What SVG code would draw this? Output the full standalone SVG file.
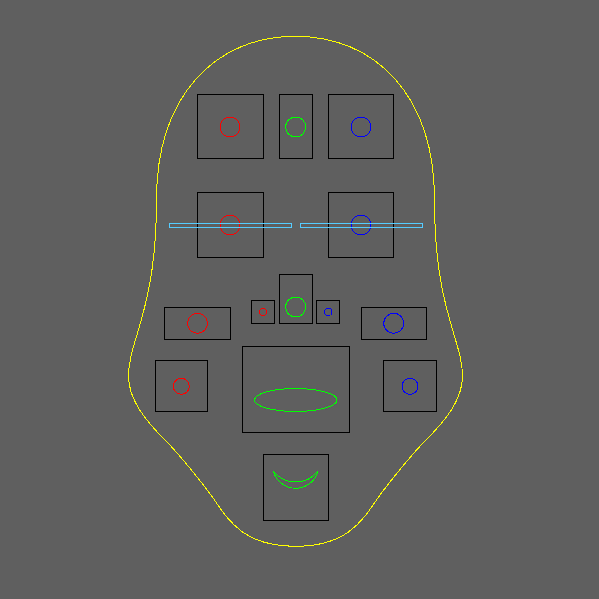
<svg xmlns="http://www.w3.org/2000/svg" width="599" height="599" viewBox="0 0 599 599">
  <style>
    svg * { shape-rendering: crispEdges; }
    .box { fill: none; stroke: #000; stroke-width: 1; }
    .r { fill: none; stroke: #ff0000; stroke-width: 1; }
    .g { fill: none; stroke: #00ff00; stroke-width: 1; }
    .b { fill: none; stroke: #0000ff; stroke-width: 1; }
    .bar { fill: none; stroke: #55ccff; stroke-width: 1; }
    .outline { fill: none; stroke: #ffff00; stroke-width: 1; }
  </style>
  <rect x="0" y="0" width="599" height="599" fill="#5f5f5f"/>
  <path id="outline" class="outline" d="M295.5,36.3 C375,36.3 434.5,95 434.5,200 C434.5,310 462.5,340 462.5,376 C462.5,400 445,421 426,440 C410,456 384,489 376.5,500 C361,523 345,546.3 295.5,546.3 C246,546.3 230,523 214.5,500 C207,489 181,456 165,440 C146,421 128.5,400 128.5,376 C128.5,340 156.5,310 156.5,200 C156.5,95 216,36.3 295.5,36.3 Z"/>

  <g id="top-left"><rect class="box" x="197.5" y="94.5" width="66" height="64"/><circle class="r" cx="230" cy="127" r="10"/></g>
  <g id="top-mid"><rect class="box" x="279.5" y="94.5" width="33" height="64"/><circle class="g" cx="295.7" cy="127" r="10"/></g>
  <g id="top-right"><rect class="box" x="328.5" y="94.5" width="65" height="64"/><circle class="b" cx="361" cy="127" r="10"/></g>

  <g id="eye-left"><rect class="box" x="197.5" y="192.5" width="66" height="65"/><circle class="r" cx="230" cy="225" r="10"/></g>
  <g id="eye-right"><rect class="box" x="328.5" y="192.5" width="65" height="65"/><circle class="b" cx="361" cy="225" r="10"/></g>
  <g id="bars">
    <rect class="bar" x="169.5" y="223.5" width="122" height="4"/>
    <rect class="bar" x="300.5" y="223.5" width="122" height="4"/>
  </g>

  <g id="small-left"><rect class="box" x="251.5" y="300.5" width="23" height="23"/><circle class="r" cx="263" cy="312" r="3.7"/></g>
  <g id="nose"><rect class="box" x="279.5" y="274.5" width="33" height="49"/><circle class="g" cx="295.7" cy="307" r="10"/></g>
  <g id="small-right"><rect class="box" x="316.5" y="300.5" width="23" height="23"/><circle class="b" cx="328.3" cy="312" r="3.7"/></g>
  <g id="wide-left"><rect class="box" x="164.5" y="307.5" width="66" height="32"/><circle class="r" cx="197.5" cy="323.3" r="10"/></g>
  <g id="wide-right"><rect class="box" x="361.5" y="307.5" width="65" height="32"/><circle class="b" cx="393.7" cy="323.3" r="10"/></g>

  <g id="cheek-left"><rect class="box" x="155.5" y="360.5" width="52" height="51"/><circle class="r" cx="181.3" cy="386.3" r="8"/></g>
  <g id="mouth"><rect class="box" x="242.5" y="346.5" width="107" height="86"/><ellipse class="g" cx="295.7" cy="400" rx="41.2" ry="11.5"/></g>
  <g id="cheek-right"><rect class="box" x="383.5" y="360.5" width="53" height="51"/><circle class="b" cx="410" cy="386.3" r="8"/></g>

  <g id="chin">
    <rect class="box" x="263.5" y="454.5" width="65" height="66"/>
    <path class="g" d="M273.3,471 A23.1,23.1 0 0 0 318,471 M273.3,471 A28.2,28.2 0 0 0 318,471"/>
  </g>
</svg>
